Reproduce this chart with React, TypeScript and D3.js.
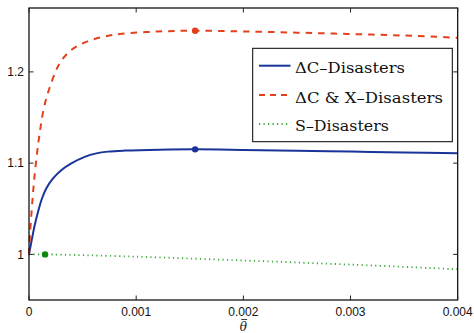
import React from "react";
import * as d3 from "d3";

const xTicks = [0, 0.001, 0.002, 0.003, 0.004];
const xTickLabels = ["0", "0.001", "0.002", "0.003", "0.004"];
const yTicks = [1, 1.1, 1.2];
const yTickLabels = ["1", "1.1", "1.2"];

const cTheta = [0, 0.000028, 0.0000532, 0.000084, 0.000121, 0.000161, 0.000224, 0.000301, 0.000395, 0.00052, 0.000628, 0.000737, 0.000896, 0.00122, 0.00155, 0.002, 0.0025, 0.003, 0.0035, 0.004];
const cValues = [1.0, 1.0173, 1.0319, 1.0465, 1.0612, 1.0722, 1.0832, 1.0923, 1.0997, 1.1069, 1.1107, 1.1126, 1.1137, 1.1147, 1.1151, 1.1145, 1.1136, 1.1127, 1.1117, 1.1107];

const cxTheta = [0, 0.0000093, 0.0000252, 0.0000373, 0.0000495, 0.0000718, 0.0000933, 0.000133, 0.000165, 0.000196, 0.000243, 0.000289, 0.000364, 0.000457, 0.000588, 0.000709, 0.000868, 0.0012, 0.00155, 0.002, 0.0025, 0.003, 0.0035, 0.004];
const cxValues = [1.0, 1.022, 1.0484, 1.067, 1.0835, 1.1077, 1.1275, 1.1571, 1.1725, 1.1838, 1.1989, 1.2099, 1.2209, 1.2286, 1.2352, 1.2388, 1.2418, 1.2442, 1.2451, 1.2443, 1.243, 1.2415, 1.2398, 1.2374];

const sTheta = [0, 0.00015, 0.001, 0.002, 0.003, 0.004];
const sValues = [1.0, 1.0, 0.9975, 0.9933, 0.9888, 0.9837];

const peakTheta = [0.00155, 0.00155, 0.00015];
const peakValues = [1.1151, 1.2451, 1.0];

const legendLabels = ["\u0394C\u2013Disasters", "\u0394C & X\u2013Disasters", "S\u2013Disasters"];

const BLUE = "#1a3399";
const RED = "#e4401c";
const GREEN_LINE = "#3aa83a";
const GREEN_DOT = "#0a8a0a";

export default function App() {
  const W = 474, H = 333;
  const x = d3.scaleLinear().domain([0, 0.004]).range([29, 457.7]);
  const y = d3.scaleLinear().domain([0.95, 1.27]).range([300, 8]);
  const line = d3
    .line<[number, number]>()
    .x((d) => x(d[0]))
    .y((d) => y(d[1]))
    .curve(d3.curveCatmullRom.alpha(0.5));
  const zip = (a: number[], b: number[]) => a.map((v, i) => [v, b[i]] as [number, number]);

  const [x0, x1] = x.range();
  const [y0, y1] = y.range();
  const tl = 4.5;
  const sans = "Liberation Sans, Arial, sans-serif";
  const serifStyle = { fontFamily: "'DejaVu Serif'" };

  const series = [
    { d: zip(cTheta, cValues), color: BLUE, dash: undefined as string | undefined, w: 2 },
    { d: zip(cxTheta, cxValues), color: RED, dash: "6.5,6", w: 2 },
    { d: zip(sTheta, sValues), color: GREEN_LINE, dash: "1.2,3.3", w: 1.8 },
  ];
  const peakColors = [BLUE, RED, GREEN_DOT];

  const lg = { x: 252.7, y: 48.3, w: 199.6, h: 93.4 };
  const rowLineY = [65.7, 95, 124];
  const rowBase = [72.7, 102.7, 131];
  const rowWidths = [110, 148, 94];
  const thX = (x0 + x1) / 2;

  return (
    <svg width={W} height={H} style={{ position: "absolute", left: 0, top: 0, background: "#fff" }}>
      <rect x={0} y={0} width={W} height={H} fill="#fff" />
      <g>
        {series.map((s, i) => (
          <path key={i} d={line(s.d) || ""} fill="none" stroke={s.color} strokeWidth={s.w} strokeDasharray={s.dash} />
        ))}
        {peakTheta.map((t, i) => (
          <circle key={i} cx={x(t)} cy={y(peakValues[i])} r={3.2} fill={peakColors[i]} />
        ))}
      </g>
      <rect x={x0} y={y1} width={x1 - x0} height={y0 - y1} fill="none" stroke="#000" strokeWidth={1.2} />
      {xTicks.map((t, i) => (
        <g key={"xt" + i}>
          <line x1={x(t)} x2={x(t)} y1={y0} y2={y0 - tl} stroke="#222" strokeWidth={1} />
          <line x1={x(t)} x2={x(t)} y1={y1} y2={y1 + tl} stroke="#222" strokeWidth={1} />
          <text x={x(t)} y={315.5} textAnchor="middle" fontFamily={sans} fontSize={12} fill="#111">
            {xTickLabels[i]}
          </text>
        </g>
      ))}
      {yTicks.map((t, i) => (
        <g key={"yt" + i}>
          <line x1={x0} x2={x0 + tl} y1={y(t)} y2={y(t)} stroke="#222" strokeWidth={1} />
          <line x1={x1} x2={x1 - tl} y1={y(t)} y2={y(t)} stroke="#222" strokeWidth={1} />
          <text x={24} y={y(t) + 4.3} textAnchor="end" fontFamily={sans} fontSize={12} fill="#111">
            {yTickLabels[i]}
          </text>
        </g>
      ))}
      <text x={thX} y={330.5} textAnchor="middle" style={{ ...serifStyle, fontStyle: "italic", fontSize: 12 }} fill="#111">
        {"\u03B8"}
      </text>
      <line x1={thX - 2.2} x2={thX + 3.8} y1={319.5} y2={319.5} stroke="#111" strokeWidth={0.8} />
      <rect x={lg.x} y={lg.y} width={lg.w} height={lg.h} fill="#fff" stroke="#000" strokeWidth={1} />
      {series.map((s, i) => (
        <g key={"lg" + i}>
          <line x1={259} x2={290.5} y1={rowLineY[i]} y2={rowLineY[i]} stroke={s.color} strokeWidth={s.w} strokeDasharray={s.dash ? (i === 1 ? "6,5" : s.dash) : undefined} />
          <text x={295} y={rowBase[i]} style={{ ...serifStyle, fontSize: 15 }} fill="#111" textLength={rowWidths[i]} lengthAdjust="spacingAndGlyphs">
            {legendLabels[i]}
          </text>
        </g>
      ))}
    </svg>
  );
}
